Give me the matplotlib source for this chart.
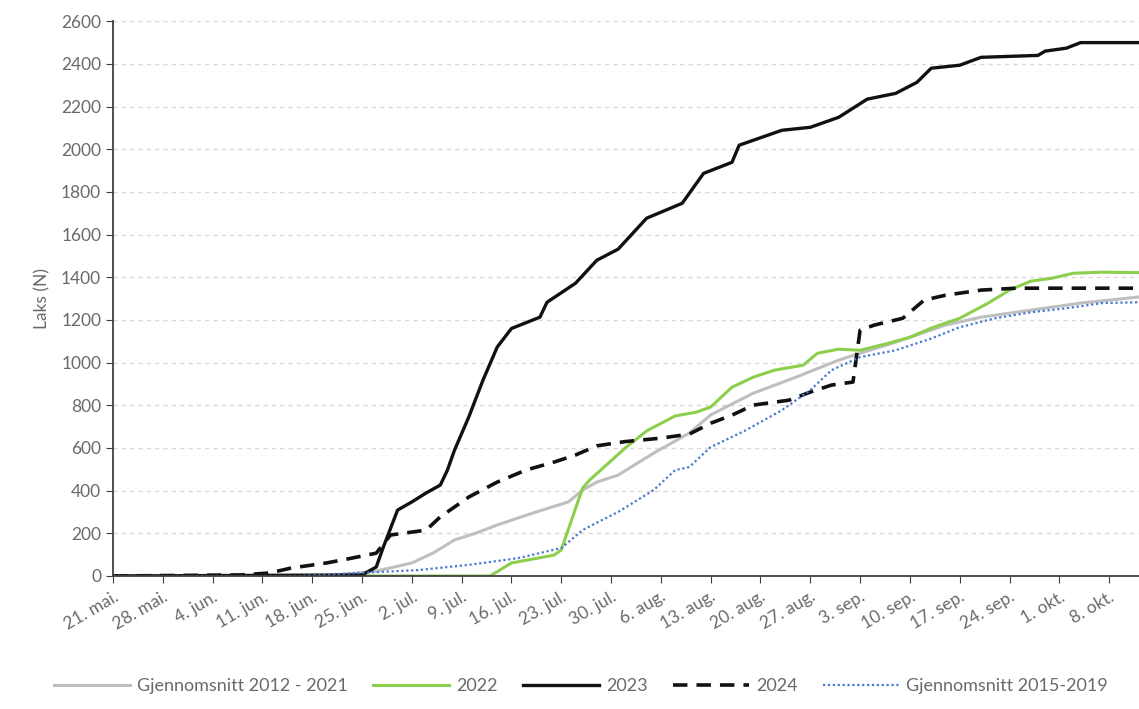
import numpy as np
import pandas as pd
import matplotlib
matplotlib.use("Agg")
import matplotlib.pyplot as plt

plt.rcParams['font.family'] = ['Lato', 'DejaVu Sans']

# Gjennomsnitt 2012 - 2021
d_avg = ["05-21", "06-20", "06-27", "07-02", "07-05", "07-08", "07-11", "07-14", "07-19",
         "07-24", "07-26", "07-28", "07-31", "08-05", "08-10", "08-13", "08-19", "08-25",
         "08-31", "09-03", "09-08", "09-15", "09-20", "09-27", "10-04", "10-12"]
v_avg = [0, 0, 23, 61, 108, 169, 201, 239, 295,
         347, 403, 440, 473, 576, 670, 755, 857, 932,
         1012, 1044, 1096, 1176, 1213, 1246, 1279, 1307]

# 2022
d_2022 = ["05-21", "07-13", "07-16", "07-22", "07-23", "07-26", "07-27", "08-01", "08-04",
          "08-08", "08-11", "08-13", "08-16", "08-19", "08-22", "08-26", "08-28", "08-31",
          "09-03", "09-07", "09-10", "09-13", "09-17", "09-21", "09-24", "09-27", "09-30",
          "10-03", "10-07", "10-12"]
v_2022 = [0, 0, 61, 98, 122, 412, 450, 600, 680,
          750, 768, 792, 885, 932, 965, 988, 1044, 1063,
          1058, 1091, 1119, 1162, 1208, 1279, 1340, 1382, 1396,
          1419, 1424, 1422]

# 2023
d_2023 = ["05-21", "06-25", "06-27", "06-28", "06-30", "07-02", "07-04", "07-06", "07-07",
          "07-08", "07-10", "07-12", "07-14", "07-16", "07-20", "07-21", "07-25", "07-28",
          "07-31", "08-04", "08-09", "08-12", "08-16", "08-17", "08-23", "08-27", "08-31",
          "09-04", "09-08", "09-11", "09-13", "09-17", "09-20", "09-28", "09-29", "10-02",
          "10-04", "10-12"]
v_2023 = [0, 5, 42, 136, 309, 347, 389, 426, 496,
          590, 745, 918, 1073, 1160, 1213, 1283, 1372, 1480,
          1532, 1677, 1747, 1887, 1939, 2019, 2089, 2103, 2150,
          2235, 2262, 2314, 2380, 2394, 2431, 2440, 2460, 2474,
          2500, 2500]

# 2024
d_2024 = ["05-21", "06-08", "06-12", "06-15", "06-20", "06-23", "06-27", "06-29", "07-04",
          "07-06", "07-10", "07-14", "07-18", "07-22", "07-25", "07-28", "08-01", "08-06",
          "08-10", "08-13", "08-16", "08-19", "08-24", "08-27", "08-30", "09-02", "09-03",
          "09-05", "09-09", "09-12", "09-15", "09-20", "09-25", "10-12"]
v_2024 = [0, 5, 14, 37, 61, 80, 107, 192, 215,
          277, 370, 440, 496, 534, 567, 610, 630, 646,
          665, 716, 754, 801, 824, 862, 895, 909, 1152,
          1176, 1208, 1293, 1316, 1340, 1349, 1349]

# Gjennomsnitt 2015-2019
d_1519 = ["05-21", "06-16", "07-03", "07-10", "07-17", "07-23", "07-26", "07-28", "07-31",
          "08-05", "08-08", "08-10", "08-13", "08-18", "08-23", "08-27", "08-30", "09-03",
          "09-08", "09-13", "09-17", "09-22", "09-27", "10-02", "10-07", "10-12"]
v_1519 = [0, 0, 28, 52, 84, 131, 215, 250, 300,
          403, 496, 511, 604, 684, 777, 871, 965, 1026,
          1058, 1113, 1166, 1208, 1236, 1255, 1279, 1283]

tick_labels = ["21. mai.", "28. mai.", "4. jun.", "11. jun.", "18. jun.", "25. jun.", "2. jul.",
               "9. jul.", "16. jul.", "23. jul.", "30. jul.", "6. aug.", "13. aug.", "20. aug.",
               "27. aug.", "3. sep.", "10. sep.", "17. sep.", "24. sep.", "1. okt.", "8. okt."]


def to_dates(lst):
    return pd.to_datetime(["2024-" + s for s in lst])


grey_txt = "#6a6a6a"

fig = plt.figure(figsize=(11.39, 7.09), dpi=100)
ax = fig.add_axes([0.0992, 0.1876, 0.9008, 0.7824])

ax.plot(to_dates(d_avg), v_avg, color="#bfbfbf", lw=2.2, label="Gjennomsnitt 2012 - 2021")
ax.plot(to_dates(d_2022), v_2022, color="#8ccf4d", lw=2.2, label="2022")
ax.plot(to_dates(d_2023), v_2023, color="#111111", lw=2.4, label="2023")
ax.plot(to_dates(d_2024), v_2024, color="#111111", lw=2.6, ls=(0, (4, 2.5)), label="2024")
ax.plot(to_dates(d_1519), v_1519, color="#4a78d0", lw=1.6, ls=(0, (1, 1.2)),
        label="Gjennomsnitt 2015-2019")

start = pd.Timestamp("2024-05-21")
ticks = [start + pd.Timedelta(days=7 * i) for i in range(len(tick_labels))]
ax.set_xticks(ticks)
ax.set_xticklabels(tick_labels, rotation=30, ha="right", rotation_mode="anchor",
                   color=grey_txt, fontsize=12.5)
ax.set_xlim(start, start + pd.Timedelta(days=144.2))

ax.set_ylim(0, 2600)
ax.set_yticks(np.arange(0, 2601, 200))
ax.tick_params(axis="y", labelcolor=grey_txt, labelsize=12.5, length=5, color="#404040")
ax.tick_params(axis="x", length=5, color="#404040", pad=4)
ax.set_ylabel("Laks (N)", color=grey_txt, fontsize=12.5, labelpad=8)

ax.grid(axis="y", color="#d9d9d9", ls=(0, (3, 3)), lw=1)
ax.set_axisbelow(True)
for s in ["top", "right"]:
    ax.spines[s].set_visible(False)
ax.spines["left"].set_color("#404040")
ax.spines["bottom"].set_color("#404040")
ax.spines["left"].set_linewidth(1.3)
ax.spines["bottom"].set_linewidth(1.3)

leg = fig.legend(loc="lower center", bbox_to_anchor=(0.51, -0.002), ncol=5, frameon=False,
                 fontsize=13, handlelength=4.2, columnspacing=1.4, handletextpad=0.4)
for t in leg.get_texts():
    t.set_color(grey_txt)

fig.savefig("out.png", dpi=100)
